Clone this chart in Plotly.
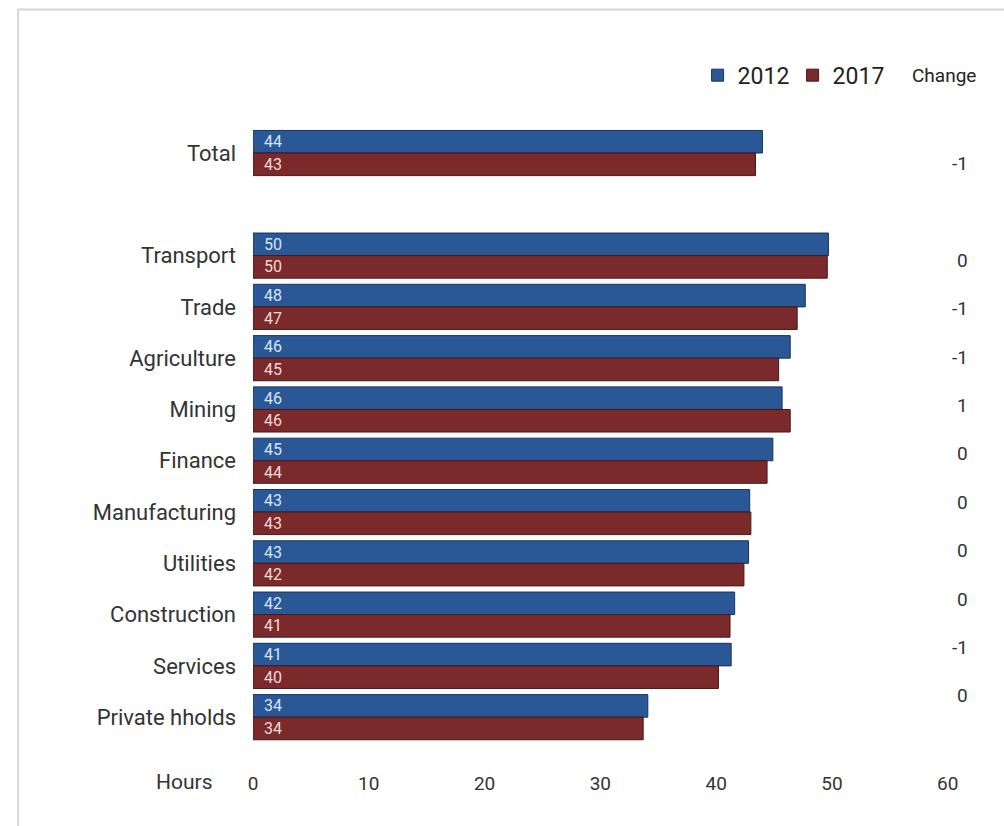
import plotly.graph_objects as go

categories = ["Total", "Transport", "Trade", "Agriculture", "Mining", "Finance",
              "Manufacturing", "Utilities", "Construction", "Services", "Private hholds"]
hours_2012 = [44.0, 49.7, 47.7, 46.4, 45.7, 44.9, 42.9, 42.8, 41.6, 41.3, 34.1]
hours_2017 = [43.4, 49.6, 47.0, 45.4, 46.4, 44.4, 43.0, 42.4, 41.2, 40.2, 33.7]
changes = ["-1", "0", "-1", "-1", "1", "0", "0", "0", "0", "-1", "0"]
x_ticks = [0, 10, 20, 30, 40, 50, 60]

SPACER = " "
y_order = [categories[0], SPACER] + categories[1:]

FONT = "Roboto, Liberation Sans, sans-serif"
BLUE = "#2a5795"
RED = "#7a2a2b"

fig = go.Figure()
fig.add_trace(go.Bar(
    name="2012", y=categories, x=hours_2012, orientation="h",
    marker=dict(color=BLUE, line=dict(color="#18335c", width=1)),
    texttemplate="\u00a0\u00a0%{x:.0f}", textposition="inside", insidetextanchor="start", textangle=0,
    insidetextfont=dict(family=FONT, size=16, color="#d6e6fa"),
    constraintext="none", cliponaxis=False,
))
fig.add_trace(go.Bar(
    name="2017", y=categories, x=hours_2017, orientation="h",
    marker=dict(color=RED, line=dict(color="#4a1616", width=1)),
    texttemplate="\u00a0\u00a0%{x:.0f}", textposition="inside", insidetextanchor="start", textangle=0,
    insidetextfont=dict(family=FONT, size=16, color="#f5d9d9"),
    constraintext="none", cliponaxis=False,
))
# invisible trace registering the gap row between Total and the sectors
fig.add_trace(go.Scatter(y=[SPACER], x=[0], mode="markers", marker=dict(opacity=0),
                         showlegend=False, hoverinfo="skip"))
# invisible trace on the change-column axis
fig.add_trace(go.Scatter(y=categories, x=[0] * len(categories), yaxis="y2", mode="markers",
                         marker=dict(opacity=0), showlegend=False, hoverinfo="skip"))

for cat, ch in zip(categories, changes):
    fig.add_annotation(x=0.968, xref="paper", y=cat, yref="y2", text=ch, showarrow=False,
                       xanchor="right", yanchor="middle",
                       font=dict(family=FONT, size=19, color="#333333"))

fig.add_annotation(x=0.932, xref="paper", y=1.037, yref="paper", text="Change", showarrow=False,
                   xanchor="center", yanchor="middle", font=dict(family=FONT, size=19, color="#222222"))
fig.add_annotation(x=-0.092, xref="paper", y=-0.018, yref="paper", text="Hours", showarrow=False,
                   xanchor="center", yanchor="middle", font=dict(family=FONT, size=21, color="#333333"))

# outer frame
fig.add_shape(type="rect", xref="paper", yref="paper", x0=-0.317, x1=1.03, y0=-0.09, y1=1.135,
              line=dict(color="#d6d6d6", width=2), fillcolor="rgba(0,0,0,0)", layer="below")

fig.update_layout(
    width=1004, height=826,
    margin=dict(l=253, r=10, t=100, b=56),
    paper_bgcolor="white", plot_bgcolor="white",
    barmode="group", bargap=0.12, bargroupgap=0,
    showlegend=True,
    legend=dict(orientation="h", x=0.6, xanchor="left", y=1.037, yanchor="middle",
                font=dict(family=FONT, size=23, color="#222222"), entrywidth=50,
                bgcolor="rgba(0,0,0,0)", itemclick=False),
    xaxis=dict(range=[0, 64], tickvals=x_ticks, showgrid=False, zeroline=False, showline=False,
               ticks="", tickfont=dict(family=FONT, size=19, color="#333333")),
    yaxis=dict(type="category", categoryorder="array", categoryarray=y_order,
               range=[12.03, -1.034], showgrid=False, zeroline=False, showline=False,
               ticks="", ticklabelstandoff=16,
               tickfont=dict(family=FONT, size=22, color="#333333")),
    yaxis2=dict(type="category", categoryorder="array", categoryarray=y_order,
                overlaying="y", range=[12.53, -1.31], visible=False),
)

fig.write_html("out.html")
